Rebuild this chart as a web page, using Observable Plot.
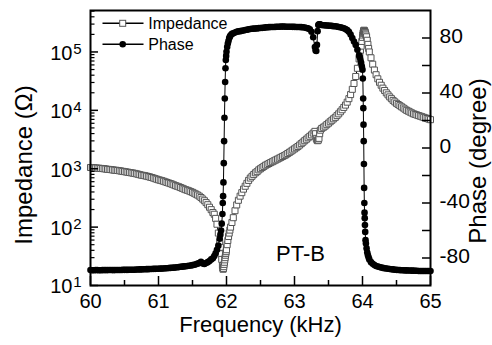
<!DOCTYPE html>
<html>
<head>
<meta charset="utf-8">
<script src="https://cdn.jsdelivr.net/npm/d3@7"></script>
<script src="https://cdn.jsdelivr.net/npm/@observablehq/plot@0.6"></script>
<style>
  html, body { margin: 0; padding: 0; background: #fff; }
  #chart svg { display: block; }
</style>
</head>
<body>
<div id="chart"></div>
<script>
// ---- Data (frequency in kHz) ----
const freq = [
  60.000,60.025,60.050,60.075,60.100,60.125,60.150,60.175,60.200,60.225,
  60.250,60.275,60.300,60.325,60.350,60.375,60.400,60.425,60.450,60.475,
  60.500,60.525,60.550,60.575,60.600,60.625,60.650,60.675,60.700,60.725,
  60.750,60.775,60.800,60.825,60.850,60.875,60.900,60.925,60.950,60.975,
  61.000,61.025,61.050,61.075,61.100,61.125,61.150,61.175,61.200,61.225,
  61.250,61.275,61.300,61.325,61.350,61.375,61.400,61.425,61.450,61.475,
  61.500,61.525,61.550,61.575,61.600,61.625,61.650,61.675,61.700,61.725,
  61.750,61.775,61.800,
  61.82,61.84,61.86,61.88,61.90,61.91,61.92,61.93,61.94,61.945,
  61.95,61.955,61.96,61.965,61.97,61.975,61.98,61.985,61.99,61.995,
  62.00,62.01,62.02,62.03,62.04,62.05,62.06,62.08,62.10,
  62.125,62.150,62.175,62.200,62.225,62.250,62.275,62.300,62.325,62.350,
  62.375,62.400,62.425,62.450,62.475,62.500,62.525,62.550,62.575,62.600,
  62.625,62.650,62.675,62.700,62.725,62.750,62.775,62.800,62.825,62.850,
  62.875,62.900,62.925,62.950,62.975,63.000,63.025,63.050,63.075,63.100,
  63.125,63.150,63.175,63.200,63.225,63.250,63.275,63.300,
  63.31,63.32,63.33,63.34,63.35,63.36,63.37,63.38,
  63.400,63.425,63.450,63.475,63.500,63.525,63.550,63.575,63.600,63.625,
  63.650,63.675,63.700,63.725,63.750,63.775,63.800,63.825,63.850,63.875,
  63.900,63.925,63.950,
  63.96,63.97,63.98,63.99,64.000,64.005,64.010,64.012,64.015,64.018,
  64.021,64.024,64.027,64.030,64.033,64.036,64.040,64.045,64.050,64.060,
  64.070,64.080,64.090,64.100,
  64.125,64.150,64.175,64.200,64.225,64.250,64.275,64.300,64.325,64.350,
  64.375,64.400,64.425,64.450,64.475,64.500,64.525,64.550,64.575,64.600,
  64.625,64.650,64.675,64.700,64.725,64.750,64.775,64.800,64.825,64.850,
  64.875,64.900,64.925,64.950,64.975,65.000
];
// Impedance (ohm), left log axis
const impedance = [
  1050,1042,1035,1029,1023,1018,1012,1006,1000,988,
  977,972,966,955,944,939,933,922,912,901,
  891,881,871,861,851,841,832,818,804,790,
  776,768,759,746,733,720,708,692,676,661,
  646,635,624,610,596,582,569,556,543,528,
  513,501,490,476,462,449,437,427,417,405,
  394,380,367,354,339,321,302,283,263,242,
  219,199,178,
  166,141,112,79,55,45,35,28,22,20,
  19,19.5,21,23,25,27.5,30,33,35.5,38,
  41,50,59,69,79,89,100,120,145,
  191,240,288,339,389,447,501,562,631,692,
  741,794,851,891,955,1000,1047,1096,1148,1189,
  1230,1274,1318,1365,1413,1462,1514,1567,1622,1679,
  1738,1820,1905,1995,2089,2188,2291,2399,2541,2692,
  2851,3020,3199,3388,3589,3802,4074,4365,
  3981,3311,3090,3020,3090,3311,3981,4571,
  4898,5129,5370,5689,6026,6383,6761,7161,7586,8128,
  8710,9441,10230,11220,12300,13800,15850,18620,22910,28840,
  38020,52480,75860,
  89130,107200,125900,151400,177800,195000,208900,213800,223900,229100,
  234400,234400,229100,226500,223900,218800,213800,204200,195000,182000,
  158500,134900,114800,100000,
  79430,61660,48980,40740,34670,30200,26920,23990,21880,19950,
  18410,16980,15850,14790,13960,13180,12590,12020,11480,10960,
  10470,10000,9661,9333,9016,8710,8511,8318,8128,7943,
  7762,7586,7413,7244,7079,6918
];
// Phase (degree), right axis
const phase = [
  -88.8,-88.9,-88.9,-88.8,-88.8,-88.9,-88.9,-88.8,-88.8,-88.8,
  -88.8,-88.7,-88.7,-88.8,-88.8,-88.7,-88.7,-88.7,-88.7,-88.6,
  -88.6,-88.6,-88.6,-88.5,-88.5,-88.5,-88.5,-88.4,-88.4,-88.3,
  -88.3,-88.2,-88.2,-88.1,-88.1,-88.0,-88.0,-87.9,-87.9,-87.8,
  -87.8,-87.7,-87.7,-87.6,-87.5,-87.4,-87.3,-87.2,-87.1,-87.0,
  -86.9,-86.7,-86.6,-86.4,-86.3,-86.1,-86.0,-85.8,-85.6,-85.4,
  -85.2,-84.9,-84.6,-84.1,-83.6,-82.8,-84.0,-84.3,-83.6,-83.0,
  -82.2,-81.0,-80.2,
  -78.5,-76.5,-74,-71,-66,-63,-60,-55,-48,-40,
  -35,-25,-11,5,22,36,48,58,64,67,
  70,73.5,76,78,80,81,82,83,83.5,
  84,84.5,84.8,85,85.2,85.5,85.8,86,86.3,86.5,
  86.7,86.8,86.9,87,87.2,87.3,87.4,87.5,87.7,87.8,
  87.9,88,88,88,88.1,88.2,88.2,88.3,88.3,88.3,
  88.2,88.2,88.2,88.2,88.1,88.1,88,88,88,87.9,
  87.8,87.6,87.3,87,86.3,84.5,80.5,73.5,
  71,70.5,75,85,89.5,90,90,89.8,
  89.5,89.3,89.2,89.1,89,88.9,88.8,88.6,88.5,88.3,
  88,87.8,87.5,87.1,86.5,85.7,84.5,82.5,80,77.5,
  75,71.5,67.5,
  66,64,62,59.5,57,50.5,36,29,17,5,
  -11.6,-29,-40,-47,-51,-56,-61,-67,-69.5,-73,
  -76,-78,-79.7,-81,
  -83,-84.2,-85.1,-85.8,-86.2,-86.5,-86.9,-87.2,-87.4,-87.6,
  -87.8,-88,-88.2,-88.3,-88.5,-88.6,-88.7,-88.8,-88.9,-88.9,
  -89,-89,-89.1,-89.1,-89.2,-89.2,-89.3,-89.3,-89.4,-89.4,
  -89.4,-89.4,-89.5,-89.5,-89.5,-89.5
];

// Axis ticks and labels
const xMajorTicks = [60, 61, 62, 63, 64, 65];
const xMinorTicks = [60.5, 61.5, 62.5, 63.5, 64.5];
const zMajorTicks = [10, 100, 1000, 10000, 100000];
const zExponents = ["1", "2", "3", "4", "5"];
const zMinorTicks = [20,30,40,50,60,70,80,90, 200,300,400,500,600,700,800,900,
  2000,3000,4000,5000,6000,7000,8000,9000, 20000,30000,40000,50000,60000,70000,80000,90000,
  200000,300000,400000,500000];
const phaseTicks = [-80, -60, -40, -20, 0, 20, 40, 60, 80];
const phaseLabels = ["-80", "-40", "0", "40", "80"];
const legendNames = ["Impedance", "Phase"];
const xTitle = "Frequency (kHz)";
const yTitleLeft = "Impedance (\u03A9)";
const yTitleRight = "Phase (degree)";
const annotation = "PT-B";

// ---- Layout ----
const W = 492, H = 345;
const mL = 90, mR = 62, mT = 10, mB = 60;
const fw = W - mL - mR, fh = H - mT - mB;
const L0 = 1, L1 = 5.71;                 // log10 of the impedance domain
const phaseDomain = [-100, 100];         // right axis domain, aligned to the frame
const phaseToZ = p => Math.pow(10, L0 + (p - phaseDomain[0]) / (phaseDomain[1] - phaseDomain[0]) * (L1 - L0));

const rows = freq.map((f, i) => ({f, z: impedance[i], p: phase[i]}))
  .filter(d => d.f != null && d.z != null && d.p != null);

const font = "'Liberation Sans', Arial, Helvetica, sans-serif";

// Legend and rotated axis titles (layout only)
const decorations = () => {
  const g = d3.create("svg:g").attr("font-family", font).attr("fill", "black");
  legendNames.forEach((name, i) => {
    const y = mT + 13.3 + i * 21;
    g.append("line").attr("x1", mL + 12.5).attr("x2", mL + 53.5).attr("y1", y).attr("y2", y)
      .attr("stroke", "black").attr("stroke-width", 1.4);
    if (i === 0) {
      g.append("rect").attr("x", mL + 32.7 - 3).attr("y", y - 3).attr("width", 6).attr("height", 6)
        .attr("fill", "white").attr("stroke", "#555").attr("stroke-width", 1);
    } else {
      g.append("circle").attr("cx", mL + 32.7).attr("cy", y).attr("r", 3.3).attr("fill", "black");
    }
    g.append("text").attr("x", mL + 58.3).attr("y", y + 5.4).attr("font-size", 16)
      .attr("text-anchor", "start").text(name);
  });
  g.append("text").attr("transform", `translate(32,165) rotate(-90)`)
    .attr("text-anchor", "middle").attr("font-size", 24).text(yTitleLeft);
  g.append("text").attr("transform", `translate(486,161) rotate(-90)`)
    .attr("text-anchor", "middle").attr("font-size", 24).text(yTitleRight);
  return g.node();
};

const chart = Plot.plot({
  width: W, height: H,
  marginLeft: mL, marginRight: mR, marginTop: mT, marginBottom: mB,
  x: {domain: [60, 65], axis: null},
  y: {type: "log", domain: [Math.pow(10, L0), Math.pow(10, L1)], axis: null},
  style: {fontFamily: font, background: "white", color: "black"},
  marks: [
    // Impedance series (open squares)
    Plot.line(rows, {x: "f", y: "z", stroke: "black", strokeWidth: 1}),
    Plot.dot(rows, {x: "f", y: "z", symbol: "square", r: 3.4, fill: "white", stroke: "#555", strokeWidth: 1}),
    // Phase series (filled circles, right axis)
    Plot.line(rows, {x: "f", y: d => phaseToZ(d.p), stroke: "black", strokeWidth: 1}),
    Plot.dot(rows, {x: "f", y: d => phaseToZ(d.p), r: 3.3, fill: "black", stroke: "none"}),
    // Frame
    Plot.frame({stroke: "black", strokeWidth: 2}),
    // Bottom ticks (inward)
    Plot.tickX(xMajorTicks, {x: d => d, insetTop: fh - 9, stroke: "black", strokeWidth: 1.5}),
    Plot.tickX(xMinorTicks, {x: d => d, insetTop: fh - 5, stroke: "black", strokeWidth: 1.5}),
    Plot.text(xMajorTicks, {x: d => d, frameAnchor: "bottom", dy: 22, text: d => String(d), fontSize: 20, fill: "black"}),
    // Left log ticks (inward)
    Plot.tickY(zMajorTicks, {y: d => d, insetRight: fw - 8, stroke: "black", strokeWidth: 1.5}),
    Plot.tickY(zMinorTicks, {y: d => d, insetRight: fw - 4.5, stroke: "black", strokeWidth: 1.2}),
    Plot.text(zMajorTicks, {y: d => d, frameAnchor: "left", dx: -18, dy: 1.5, textAnchor: "end", text: () => "10", fontSize: 20, fill: "black"}),
    Plot.text(zMajorTicks, {y: d => d, frameAnchor: "left", dx: -17.3, dy: -3, textAnchor: "start", text: (d, i) => zExponents[i], fontSize: 15, fill: "black"}),
    // Right phase ticks (inward)
    Plot.tickY(phaseTicks, {y: d => phaseToZ(d), insetLeft: fw - 8, stroke: "black", strokeWidth: 1.5}),
    Plot.text(phaseLabels, {y: d => phaseToZ(+d), frameAnchor: "right", dx: 9, dy: -1.5, textAnchor: "start", text: d => d, fontSize: 21, fill: "black"}),
    // X axis title
    Plot.text([xTitle], {frameAnchor: "bottom", dy: 46, text: d => d, fontSize: 22, fill: "black"}),
    // Annotation
    Plot.text([annotation], {frameAnchor: "bottom", dx: 40, dy: -25, text: d => d, fontSize: 22, fill: "black"}),
    // Legend and rotated titles
    decorations
  ]
});
document.getElementById("chart").append(chart);
</script>
</body>
</html>
